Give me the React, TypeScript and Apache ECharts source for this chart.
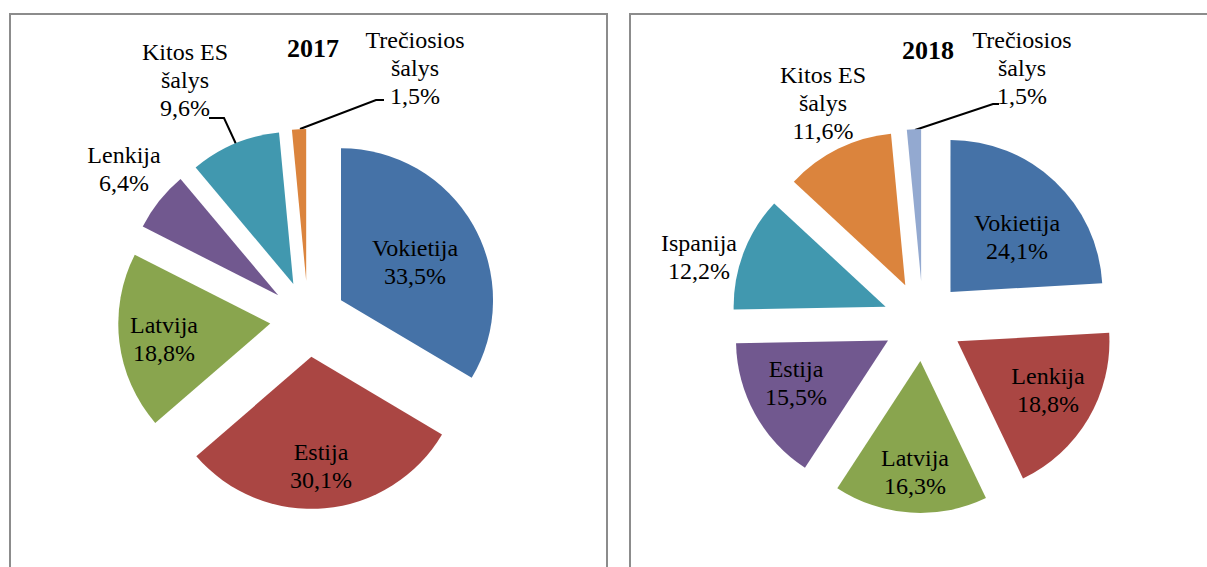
import React, { useEffect, useRef } from "react";
import * as echarts from "echarts";

const CATS_2017 = ["Vokietija", "Estija", "Latvija", "Lenkija", "Kitos ES šalys", "Trečiosios šalys"];
const VALS_2017 = [33.5, 30.1, 18.8, 6.4, 9.6, 1.5];
const CATS_2018 = ["Vokietija", "Lenkija", "Latvija", "Estija", "Ispanija", "Kitos ES šalys", "Trečiosios šalys"];
const VALS_2018 = [24.1, 18.8, 16.3, 15.5, 12.2, 11.6, 1.5];
const TITLES = ["2017", "2018"];

const COLORS = ["#4572A7", "#AA4643", "#89A54E", "#71588F", "#4198AF", "#DB843D", "#93A9D0"];

// label placement (layout only)
const LABEL_POS_2017: [number, number][] = [[415, 262], [321, 466], [164, 339], [124, 169], [185, 80], [415, 68]];
const LABEL_POS_2018: [number, number][] = [[1017, 237], [1048, 390], [915, 472], [796, 383], [699, 257], [823, 103], [1022, 68]];
const LEADERS_2017: Record<number, number[][]> = {
  4: [[236, 144], [224, 118], [209, 118]],
  5: [[300, 129], [376, 100], [384, 100]],
};
const LEADERS_2018: Record<number, number[][]> = {
  6: [[915, 130], [993, 104], [999, 104]],
};

const FONT = "'Liberation Serif', 'Times New Roman', serif";

function fmt(name: string, v: number) {
  return name.replace(" šalys", "\nšalys") + "\n" + v.toFixed(1).replace(".", ",") + "%";
}

const HIDDEN = {
  itemStyle: { color: "rgba(0,0,0,0)" },
  label: { show: false },
  labelLine: { show: false },
};

function explodedSeries(
  cats: string[],
  vals: number[],
  center: [number, number],
  radius: number,
  offset: number,
  pos: [number, number][],
  leaders: Record<number, number[][]>
) {
  const total = vals.reduce((a, b) => a + b, 0);
  let cum = 0;
  return vals.map((v, i) => {
    const before = cum;
    const after = total - before - v;
    cum += v;
    const mid = ((before + v / 2) / total) * Math.PI * 2;
    const cx = center[0] + offset * Math.sin(mid);
    const cy = center[1] - offset * Math.cos(mid);
    const hasLeader = !!leaders[i];
    return {
      type: "pie",
      center: [cx, cy],
      radius,
      startAngle: 90,
      clockwise: true,
      avoidLabelOverlap: false,
      silent: true,
      emphasis: { disabled: true },
      data: [
        { name: "_b", value: before, ...HIDDEN },
        {
          name: cats[i],
          value: v,
          itemStyle: { color: COLORS[i] },
          label: {
            show: true,
            position: hasLeader ? "outside" : "inside",
            formatter: (p: any) => fmt(p.name, p.value),
            color: "#000",
            fontFamily: FONT,
            fontSize: 24,
            lineHeight: 28,
            align: "center",
          },
          labelLine: { show: hasLeader, lineStyle: { color: "#000", width: 2 } },
        },
        { name: "_a", value: after, ...HIDDEN },
      ],
      labelLayout: (params: any) => {
        if (params.dataIndex !== 1) return {};
        const res: any = { x: pos[i][0], y: pos[i][1], align: "center", verticalAlign: "middle" };
        if (hasLeader) res.labelLinePoints = leaders[i];
        return res;
      },
    };
  });
}

export default function App() {
  const ref = useRef<HTMLDivElement>(null);
  useEffect(() => {
    if (!ref.current) return;
    const chart = echarts.init(ref.current, undefined, { renderer: "svg" });
    const titleStyle = { fontFamily: FONT, fontSize: 26, fontWeight: "bold", color: "#000" };
    chart.setOption({
      animation: false,
      title: [
        { text: TITLES[0], left: 308, top: 30, textAlign: "center", textStyle: titleStyle },
        { text: TITLES[1], left: 923, top: 32, textAlign: "center", textStyle: titleStyle },
      ],
      graphic: [
        {
          type: "rect",
          shape: { x: 10, y: 14, width: 597, height: 600 },
          style: { fill: "none", stroke: "#8c8c8c", lineWidth: 2 },
          silent: true,
        },
        {
          type: "rect",
          shape: { x: 630, y: 14, width: 600, height: 600 },
          style: { fill: "none", stroke: "#8c8c8c", lineWidth: 2 },
          silent: true,
        },
      ],
      series: [
        ...explodedSeries(CATS_2017, VALS_2017, [308, 319], 152, 38, LABEL_POS_2017, LEADERS_2017),
        ...explodedSeries(CATS_2018, VALS_2018, [923, 321], 152, 40, LABEL_POS_2018, LEADERS_2018),
      ],
    });
    return () => chart.dispose();
  }, []);
  return (
    <div
      ref={ref}
      style={{ position: "fixed", left: 0, top: 0, width: 1207, height: 567, background: "#fff" }}
    />
  );
}
